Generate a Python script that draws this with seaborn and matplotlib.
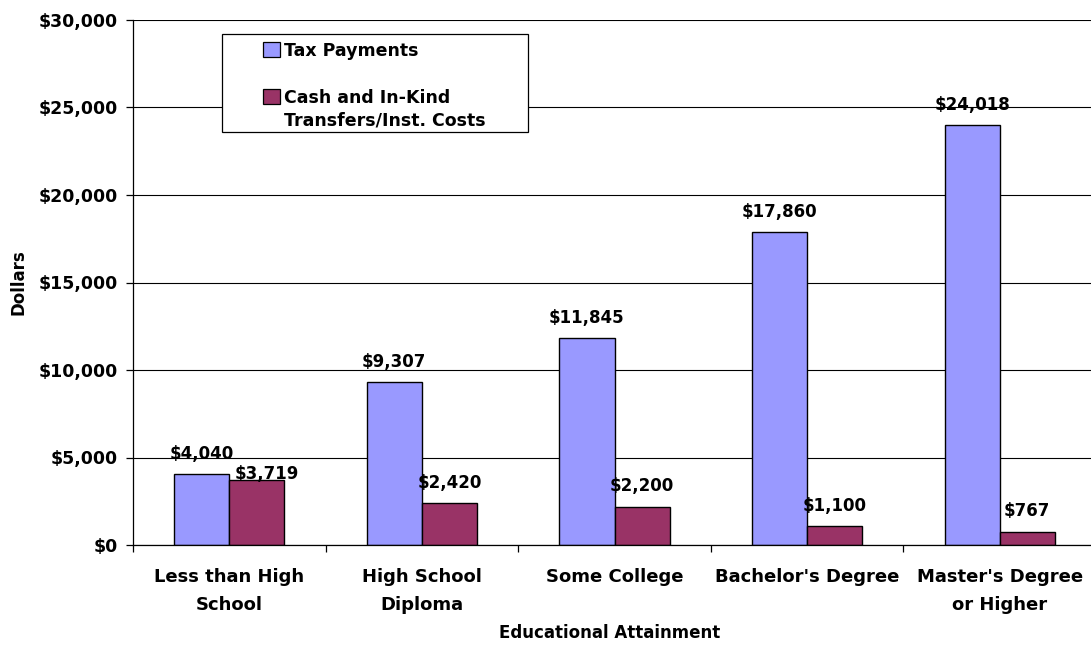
import matplotlib
matplotlib.use("Agg")
import matplotlib.pyplot as plt
import matplotlib.patches as mpatches
from matplotlib.legend_handler import HandlerPatch
from matplotlib.ticker import StrMethodFormatter, FixedLocator
import numpy as np
import pandas as pd
import seaborn as sns

# Annual fiscal contribution by educational attainment
levels = ["Less than High\nSchool", "High School\nDiploma", "Some College",
          "Bachelor's Degree", "Master's Degree\nor Higher"]
tax_payments = [4040, 9307, 11845, 17860, 24018]
transfers_costs = [3719, 2420, 2200, 1100, 767]
series_names = ["Tax Payments", "Cash and In-Kind\nTransfers/Inst. Costs"]
series_colors = ["#9999FF", "#993366"]
y_ticks = [0, 5000, 10000, 15000, 20000, 25000, 30000]

df = pd.DataFrame({
    "level": levels * 2,
    "value": tax_payments + transfers_costs,
    "series": [series_names[0]] * len(levels) + [series_names[1]] * len(levels),
})

sns.set_theme(style="white")
plt.rcParams["font.family"] = ["DejaVu Sans"]
plt.rcParams["font.weight"] = "bold"

fig = plt.figure(figsize=(10.91, 6.48), dpi=100)
ax = fig.add_axes([133 / 1091, 1 - 545 / 648, 963 / 1091, 525 / 648])

sns.barplot(data=df, x="level", y="value", hue="series", order=levels,
            hue_order=series_names, palette=series_colors, saturation=1,
            width=0.573, edgecolor="black", linewidth=1.0, legend=False, ax=ax)

# Axes, grid and ticks
ax.set_xlim(-0.5, len(levels) - 0.5)
ax.set_ylim(0, 30000)
ax.set_yticks(y_ticks)
ax.yaxis.set_major_formatter(StrMethodFormatter("${x:,.0f}"))
ax.set_axisbelow(True)
ax.yaxis.grid(True, color="black", linewidth=0.8)
ax.xaxis.grid(False)
for side in ("top", "right"):
    ax.spines[side].set_visible(False)
for side in ("left", "bottom"):
    ax.spines[side].set_color("black")
    ax.spines[side].set_linewidth(0.9)

ax.tick_params(axis="y", which="major", left=True, direction="out", length=5,
               width=0.9, color="black", pad=6, labelsize=12.5, labelcolor="black")
ax.set_xticks(range(len(levels)))
ax.set_xticklabels(levels, fontsize=13, fontweight="bold", linespacing=1.69)
ax.tick_params(axis="x", which="major", length=0, pad=16.5, labelcolor="black")
ax.xaxis.set_minor_locator(FixedLocator(np.arange(-0.5, len(levels), 1.0)))
ax.tick_params(axis="x", which="minor", bottom=True, direction="out", length=5,
               width=0.9, color="black")
for lab in ax.get_yticklabels():
    lab.set_fontweight("bold")

ax.set_xlabel("Educational Attainment", fontsize=12, fontweight="bold", color="black")
ax.set_ylabel("Dollars", fontsize=12, fontweight="bold", color="black")
ax.xaxis.set_label_coords(0.495, -0.150)
ax.yaxis.set_label_coords(-0.110, 0.5)

# Value labels above each bar
label_nudges = {(1, 0): (7, -2)}
for ci, cont in enumerate(ax.containers):
    texts = ax.bar_label(cont, fmt="${:,.0f}", padding=8, fontsize=12,
                         fontweight="bold", color="black")
    for bi, t in enumerate(texts):
        if (ci, bi) in label_nudges:
            t.xyann = label_nudges[(ci, bi)]

# Legend: white framed box, square keys aligned with the first line of each label
frame = mpatches.Rectangle((0.0924, 0.7867), 0.3178, 0.1867, transform=ax.transAxes,
                           facecolor="white", edgecolor="black", linewidth=0.9,
                           zorder=4)
ax.add_patch(frame)

legend_font = 12.5
legend_linespacing = 1.32
first_line_lift = 10.0  # points: raise the key from the block centre to the first line


def square_on_first_line(legend, orig_handle, xdescent, ydescent, width, height, fontsize):
    extra_lines = orig_handle.get_label().count("\n")
    return mpatches.Rectangle((-xdescent, -ydescent + extra_lines * first_line_lift),
                              width, height)


handles = []
for name, color in zip(series_names, series_colors):
    handles.append(mpatches.Patch(facecolor=color, edgecolor="black",
                                  linewidth=0.9, label=name))
leg = ax.legend(handles=handles, loc="upper left", bbox_to_anchor=(0.135, 0.959),
                frameon=False, borderpad=0, borderaxespad=0,
                handlelength=0.96, handleheight=0.9, handletextpad=0.25,
                labelspacing=1.71,
                prop={"size": legend_font, "weight": "bold"},
                handler_map={mpatches.Patch: HandlerPatch(patch_func=square_on_first_line)})
leg.set_zorder(5)
for t in leg.get_texts():
    t.set_linespacing(legend_linespacing)
    t.set_color("black")

fig.savefig("out.png", dpi=100, facecolor="white")
